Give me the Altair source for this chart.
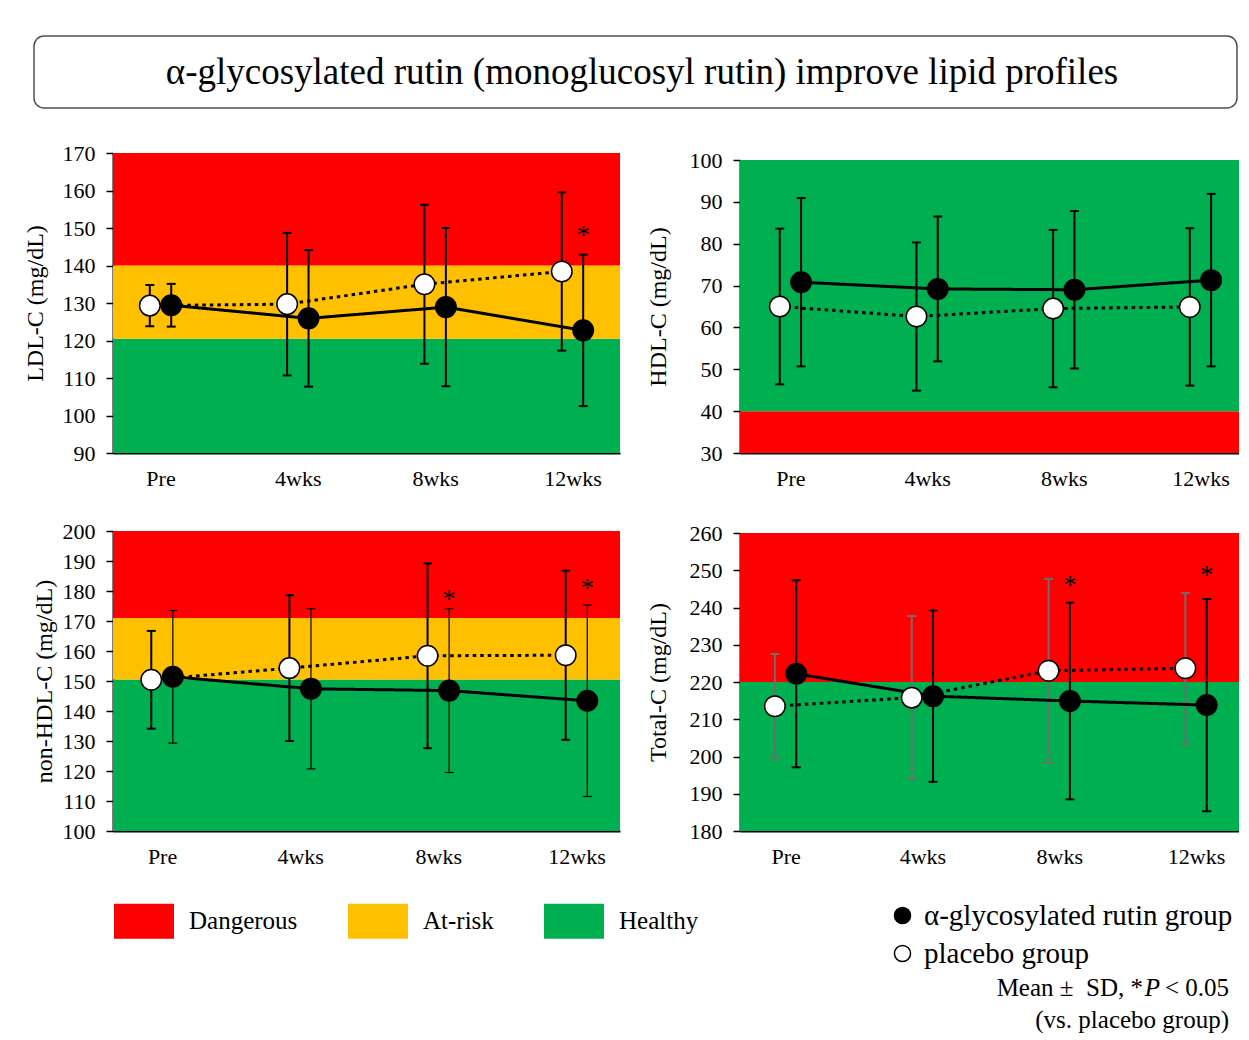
import json
import altair as alt
import pandas as pd

SERIF = "Liberation Serif"

# ---------------- data ----------------
timepoints = ["Pre", "4wks", "8wks", "12wks"]
groups = ["α-glycosylated rutin group", "placebo group"]
zones = ["Dangerous", "At-risk", "Healthy"]
zone_colors = ["#ff0000", "#ffc000", "#00b050"]

chart_title = "α-glycosylated rutin (monoglucosyl rutin) improve lipid profiles"
footnote_a = "Mean ±\u00a0 SD, *"
footnote_p = "P"
footnote_b = "< 0.05"
footnote_c = "(vs. placebo group)"

# LDL-C
ldl_rutin_mean = [129.4, 125.9, 128.9, 122.7]
ldl_rutin_sd = [5.7, 18.2, 21.1, 20.2]
ldl_placebo_mean = [129.3, 129.7, 135.0, 138.4]
ldl_placebo_sd = [5.5, 19.0, 21.2, 21.1]
ldl_zone_names = ["Healthy", "At-risk", "Dangerous"]
ldl_zone_lo = [90, 120.5, 140]
ldl_zone_hi = [120.5, 140, 170]
ldl_star_times = ["12wks"]
ldl_star_y = [149.0]

# HDL-C
hdl_rutin_mean = [70.8, 69.2, 69.0, 71.3]
hdl_rutin_sd = [20.1, 17.3, 18.8, 20.6]
hdl_placebo_mean = [65.0, 62.6, 64.5, 64.9]
hdl_placebo_sd = [18.6, 17.7, 18.8, 18.8]
hdl_zone_names = ["Dangerous", "Healthy"]
hdl_zone_lo = [30, 40]
hdl_zone_hi = [40, 100]
hdl_star_times = []
hdl_star_y = []

# non-HDL-C
nhdl_rutin_mean = [151.4, 147.4, 146.8, 143.4]
nhdl_rutin_sd = [22.1, 26.7, 27.3, 31.9]
nhdl_placebo_mean = [150.4, 154.3, 158.4, 158.6]
nhdl_placebo_sd = [16.3, 24.3, 30.8, 28.2]
nhdl_zone_names = ["Healthy", "At-risk", "Dangerous"]
nhdl_zone_lo = [100, 150.5, 171]
nhdl_zone_hi = [150.5, 171, 200]
nhdl_star_times = ["8wks", "12wks"]
nhdl_star_y = [178.4, 182.1]

# Total-C
tc_rutin_mean = [222.2, 216.2, 214.9, 213.8]
tc_rutin_sd = [25.1, 23.0, 26.4, 28.5]
tc_placebo_mean = [213.5, 215.8, 223.0, 223.7]
tc_placebo_sd = [14.0, 21.9, 24.7, 20.2]
tc_zone_names = ["Healthy", "Dangerous"]
tc_zone_lo = [180, 220]
tc_zone_hi = [220, 260]
tc_star_times = ["8wks", "12wks"]
tc_star_y = [246.9, 249.4]

# ---------------- helpers ----------------
OFFSET = 0.078
TP = json.dumps(timepoints)
RUTIN_TEST = f"datum.group === {json.dumps(groups[0])}"
zone_scale = alt.Scale(domain=zones, range=zone_colors)
group_fill_scale = alt.Scale(domain=groups, range=["black", "white"])
dash_scale = alt.Scale(domain=groups, range=[[1, 0], [3.5, 4]])
one = pd.DataFrame({"k": [0]})


def panel(ytitle, ydomain, yrange, xdomain, width, rmean, rsd, pmean, psd,
          znames, zlo, zhi, stimes, sy, title_pad, rutin_err, placebo_err,
          extra=(), zone_legend=None, group_legend=None):
    rows = []
    for g, m, s in ((groups[1], pmean, psd), (groups[0], rmean, rsd)):
        for t, mv, sv in zip(timepoints, m, s):
            rows.append({"time": t, "group": g, "mean": mv, "sd": sv})
    df = pd.DataFrame(rows)
    zdf = pd.DataFrame({"zone": znames, "zlo": zlo, "zhi": zhi})

    xscale = alt.Scale(domain=xdomain, nice=False, zero=False)
    yscale = alt.Scale(domain=ydomain, range=yrange, nice=False, zero=False)
    xaxis = alt.Axis(values=[0, 1, 2, 3], labelExpr=f"{TP}[datum.value]",
                     title=None, ticks=False, tickSize=0, labelPadding=15,
                     labelFontSize=22, domainWidth=2)
    yaxis = alt.Axis(values=list(range(ydomain[0], ydomain[1] + 1, 10)),
                     title=ytitle, titlePadding=title_pad, tickSize=7,
                     labelPadding=11, labelFontSize=22, titleFontSize=24,
                     domainWidth=2, tickWidth=1.5)
    X = alt.X("xpos:Q", scale=xscale, axis=xaxis)

    def Y(field):
        return alt.Y(field, scale=yscale, axis=yaxis)

    base = alt.Chart(df).transform_calculate(
        idx=f"indexof({TP}, datum.time)"
    ).transform_calculate(
        xpos=f"datum.idx + ({RUTIN_TEST} ? {OFFSET} : {-OFFSET})",
        lo="datum.mean - datum.sd",
        hi="datum.mean + datum.sd",
    )

    layers = [
        alt.Chart(zdf).mark_rect().encode(
            y=Y("zlo:Q"), y2="zhi:Q",
            color=alt.Color("zone:N", scale=zone_scale, legend=zone_legend),
        )
    ]
    for g, st in ((groups[1], placebo_err), (groups[0], rutin_err)):
        b = base.transform_filter(f"datum.group === {json.dumps(g)}")
        layers.append(b.mark_rule(color=st["color"], strokeWidth=st["width"]).encode(
            x=X, y=Y("lo:Q"), y2="hi:Q"))
        for end in ("lo:Q", "hi:Q"):
            layers.append(b.mark_tick(orient="horizontal", color=st["color"],
                                      thickness=st["width"], size=9, opacity=1).encode(
                x=X, y=Y(end)))
    layers.append(base.mark_line(color="black", strokeWidth=3).encode(
        x=X, y=Y("mean:Q"),
        strokeDash=alt.StrokeDash("group:N", scale=dash_scale, legend=None)))
    layers.append(base.mark_circle(size=420, stroke="black", strokeWidth=1.5, opacity=1).encode(
        x=X, y=Y("mean:Q"),
        fill=alt.Fill("group:N", scale=group_fill_scale, legend=group_legend)))
    if stimes:
        sdf = pd.DataFrame({"time": stimes, "sy": sy})
        layers.append(alt.Chart(sdf).transform_calculate(
            xpos=f"indexof({TP}, datum.time) + {OFFSET}"
        ).mark_text(text="*", font=SERIF, fontSize=27, color="black",
                    baseline="alphabetic", dy=12).encode(x=X, y=Y("sy:Q")))
    layers.extend(extra)
    return alt.layer(*layers).properties(width=width, height=300)


# ---------------- title (drawn above the first panel) ----------------
title_box = alt.Chart(one).mark_rect(fill="white", stroke="#505050", strokeWidth=1.5,
                                     cornerRadius=10).encode(
    x=alt.value(-79), x2=alt.value(1124), y=alt.value(-117), y2=alt.value(-45))
title_text = alt.Chart(one).mark_text(font=SERIF, fontSize=37, color="black",
                                      align="center", baseline="middle").encode(
    x=alt.value(529), y=alt.value(-80), text=alt.value(chart_title))

# ---------------- legends + footnote (drawn below the third panel) ----------------
zone_legend = alt.Legend(
    orient="none", legendX=1, legendY=360, direction="horizontal", title=None,
    symbolType="M-1,-0.583H1V0.583H-1Z", symbolSize=3600, symbolOpacity=1,
    symbolStrokeWidth=0, labelFont=SERIF, labelFontSize=25, labelColor="black",
    labelOffset=15, columnPadding=50, labelLimit=0)
group_legend = alt.Legend(
    orient="none", legendX=775, legendY=370, direction="vertical", title=None,
    symbolType="circle", symbolSize=260, symbolOpacity=1, symbolStrokeColor="black",
    symbolStrokeWidth=1.5, labelFont=SERIF, labelFontSize=29, labelColor="black",
    labelOffset=7, rowPadding=8, labelLimit=0)

FN_Y = 457
fn_a = alt.Chart(one).mark_text(font=SERIF, fontSize=25, color="black", align="right",
                                baseline="middle").encode(
    x=alt.value(1030), y=alt.value(FN_Y), text=alt.value(footnote_a))
fn_p = alt.Chart(one).mark_text(font=SERIF, fontSize=25, color="black", align="right",
                                baseline="middle", fontStyle="italic").encode(
    x=alt.value(1047), y=alt.value(FN_Y), text=alt.value(footnote_p))
fn_b = alt.Chart(one).mark_text(font=SERIF, fontSize=25, color="black", align="right",
                                baseline="middle").encode(
    x=alt.value(1116), y=alt.value(FN_Y), text=alt.value(footnote_b))
fn_c = alt.Chart(one).mark_text(font=SERIF, fontSize=25, color="black", align="right",
                                baseline="middle").encode(
    x=alt.value(1116), y=alt.value(489), text=alt.value(footnote_c))

black2 = {"color": "black", "width": 2}
thin = {"color": "black", "width": 1.2}
grey2 = {"color": "#6e6e6e", "width": 2}

p1 = panel("LDL-C (mg/dL)", [90, 170], [300, 0], [-0.346, 3.346], 507,
           ldl_rutin_mean, ldl_rutin_sd, ldl_placebo_mean, ldl_placebo_sd,
           ldl_zone_names, ldl_zone_lo, ldl_zone_hi, ldl_star_times, ldl_star_y,
           15, black2, black2, extra=(title_box, title_text))
p2 = panel("HDL-C (mg/dL)", [30, 100], [300, 7], [-0.369, 3.282], 499,
           hdl_rutin_mean, hdl_rutin_sd, hdl_placebo_mean, hdl_placebo_sd,
           hdl_zone_names, hdl_zone_lo, hdl_zone_hi, hdl_star_times, hdl_star_y,
           19, black2, black2)
p3 = panel("non-HDL-C (mg/dL)", [100, 200], [300, 0], [-0.355, 3.315], 507,
           nhdl_rutin_mean, nhdl_rutin_sd, nhdl_placebo_mean, nhdl_placebo_sd,
           nhdl_zone_names, nhdl_zone_lo, nhdl_zone_hi, nhdl_star_times, nhdl_star_y,
           6, thin, black2,
           extra=(fn_a, fn_p, fn_b, fn_c),
           zone_legend=zone_legend, group_legend=group_legend)
p4 = panel("Total-C (mg/dL)", [180, 260], [300, 2], [-0.333, 3.314], 499,
           tc_rutin_mean, tc_rutin_sd, tc_placebo_mean, tc_placebo_sd,
           tc_zone_names, tc_zone_lo, tc_zone_hi, tc_star_times, tc_star_y,
           19, black2, grey2)

chart = alt.concat(
    p1, p2, p3, p4, columns=2,
    spacing=alt.RowColnumber(row=78, column=120), bounds="flush",
).resolve_scale(
    color="independent", fill="independent"
).properties(
    padding={"left": 15, "top": 27, "right": 0, "bottom": 0},
    background="white",
).configure_axis(
    labelFont=SERIF, titleFont=SERIF, labelColor="black", titleColor="black",
    domainColor="black", tickColor="black", grid=False, titleFontWeight="normal",
).configure_view(strokeWidth=0)

chart.save("out.html", embed_options={"renderer": "svg", "actions": False})
